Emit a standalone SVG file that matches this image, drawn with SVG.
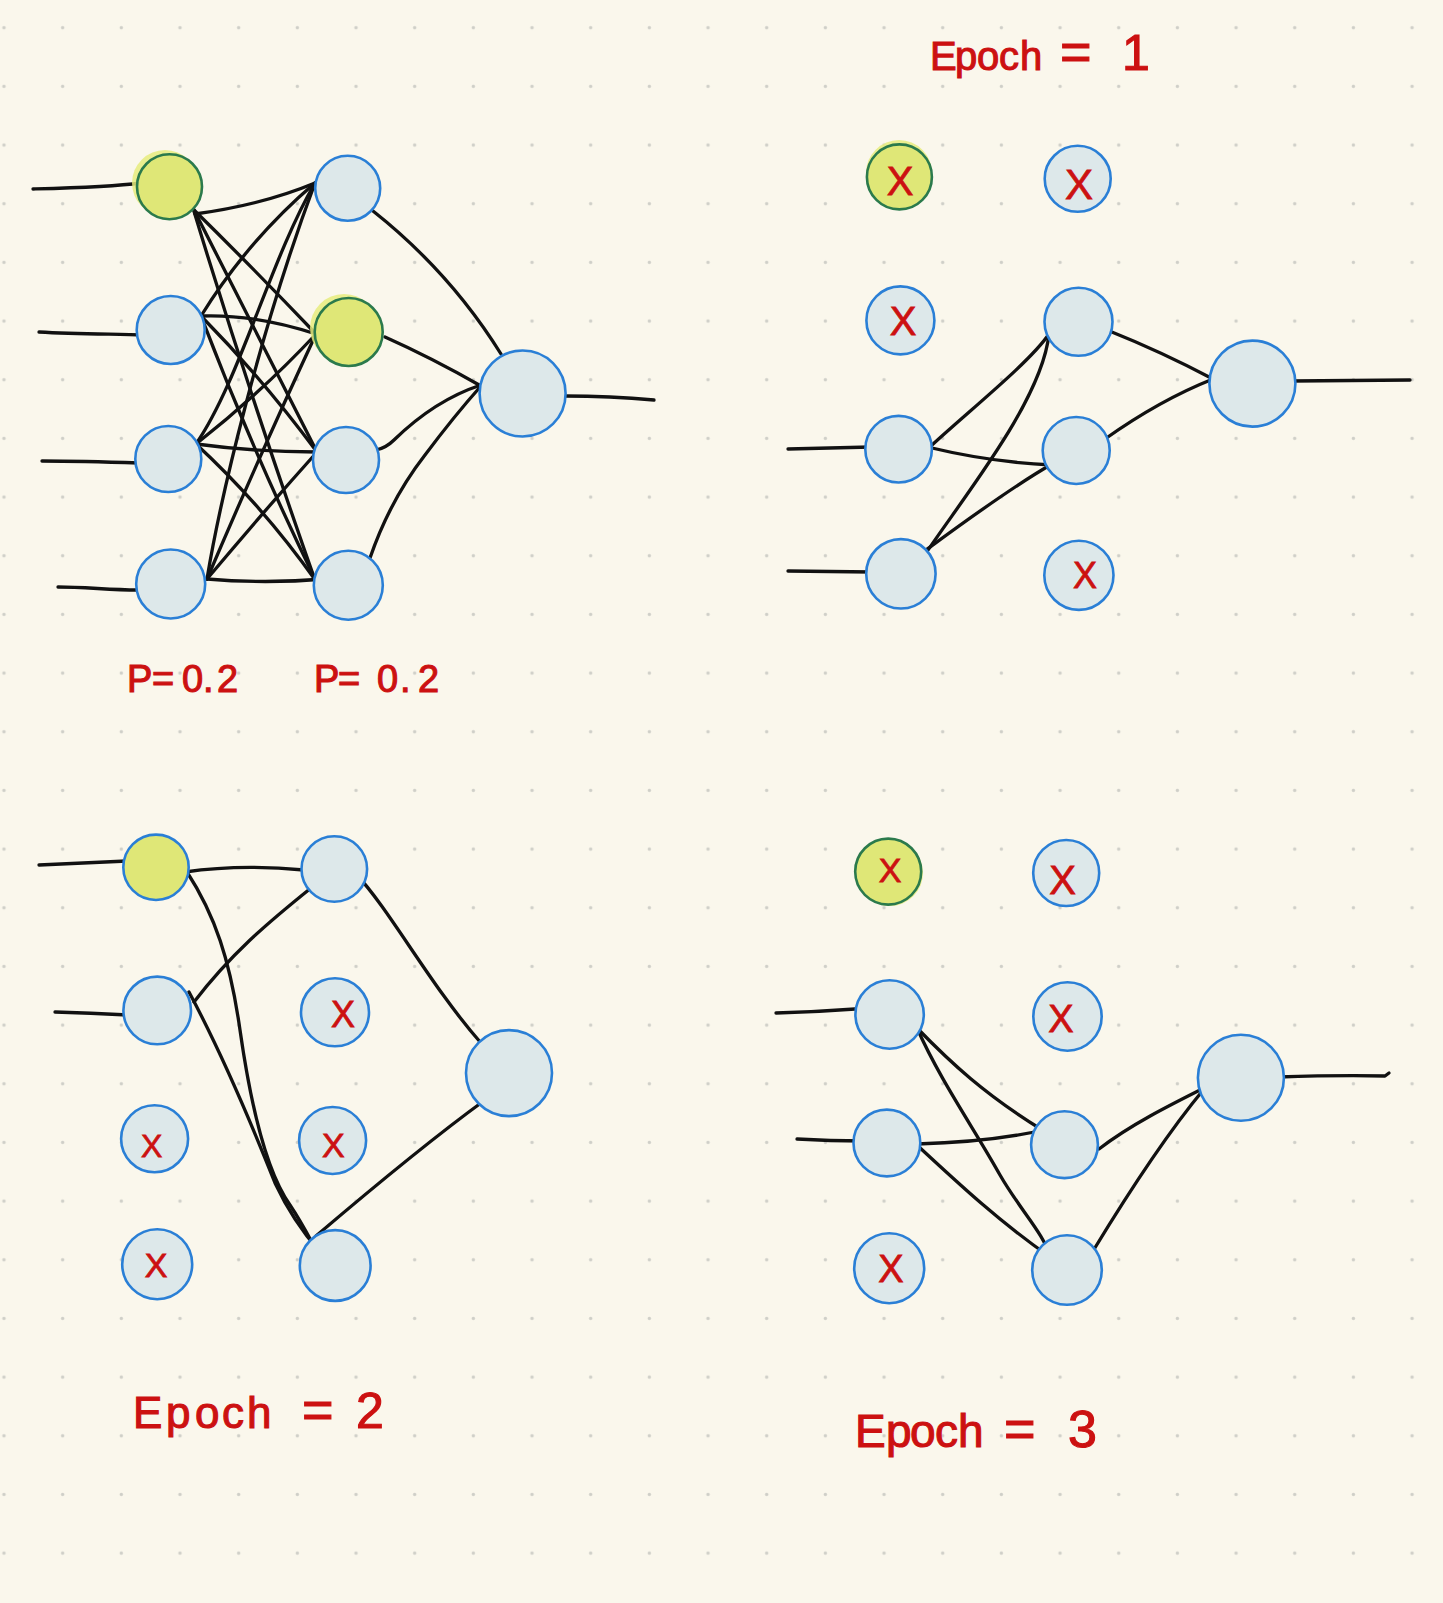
<svg xmlns="http://www.w3.org/2000/svg" width="1443" height="1603" viewBox="0 0 1443 1603">
<style>
.n{fill:#dde8ea;stroke:#2a7fd6;stroke-width:2.6}
.y{fill:#dfe777;stroke:#2b7a4c;stroke-width:2.6}
.yb{fill:#dfe777;stroke:#2a7fd6;stroke-width:2.6}
.glow{fill:#e6ec7e;opacity:0.85}
.c{fill:none;stroke:#111;stroke-width:3.3;stroke-linecap:round;stroke-linejoin:round}
.t{fill:#cc1111;stroke:#cc1111;stroke-width:1.1;font-family:"Liberation Sans","DejaVu Sans",sans-serif}
.xm{fill:#cc1111;stroke:#cc1111;stroke-width:0.8;font-family:"Liberation Sans","DejaVu Sans",sans-serif;text-anchor:middle}
</style>
<defs>
<pattern id="dots" patternUnits="userSpaceOnUse" x="-25.33" y="-1.63" width="58.67" height="58.67">
<circle cx="29.33" cy="29.33" r="1.7" fill="#cfcfc8"/>
</pattern>
</defs>
<rect width="1443" height="1603" fill="#faf7ec"/>
<rect width="1443" height="1603" fill="url(#dots)"/>

<g id="connectors">
<!-- panel 1 inputs -->
<path class="c" d="M33,189 C70,188 110,187 141,183"/>
<path class="c" d="M39,332 C75,334 110,334 144,335"/>
<path class="c" d="M42,461 C80,461 110,462 139,463"/>
<path class="c" d="M58,587 C85,587 110,590 137,590"/>
<!-- panel 1 input->hidden -->
<path class="c" d="M195,214 Q262,205 315,183"/>
<path class="c" d="M194,210 Q255,270 316,334"/>
<path class="c" d="M193,208 Q252,325 317,452"/>
<path class="c" d="M193,208 Q248,390 315,580"/>
<path class="c" d="M201,316 Q248,240 315,183"/>
<path class="c" d="M201,316 Q255,314 316,334"/>
<path class="c" d="M201,316 Q262,378 317,452"/>
<path class="c" d="M201,316 Q252,450 316,581"/>
<path class="c" d="M196,444 C240,380 270,260 315,183"/>
<path class="c" d="M196,444 Q262,392 316,334"/>
<path class="c" d="M196,444 Q255,452 317,452"/>
<path class="c" d="M196,444 Q262,505 316,581"/>
<path class="c" d="M207,579 C220,500 260,330 315,183"/>
<path class="c" d="M207,579 Q262,450 316,334"/>
<path class="c" d="M207,579 Q265,510 317,452"/>
<path class="c" d="M207,579 Q265,584 325,579"/>
<!-- panel 1 hidden->output -->
<path class="c" d="M373,211 Q450,272 501,354"/>
<path class="c" d="M385,337 Q432,358 481,386"/>
<path class="c" d="M376,450 Q386,448 394,440 Q435,400 481,385"/>
<path class="c" d="M370,558 Q390,500 425,455 Q455,415 481,386"/>
<path class="c" d="M565,396 Q610,396 654,400"/>
<!-- panel 2 -->
<path class="c" d="M788,449 L871,447"/>
<path class="c" d="M788,571 L872,572"/>
<path class="c" d="M932,445 C970,410 1030,362 1049,334"/>
<path class="c" d="M932,448 Q990,462 1052,465"/>
<path class="c" d="M926,553 C965,495 1042,400 1049,334"/>
<path class="c" d="M926,550 C960,525 1010,488 1052,464"/>
<path class="c" d="M1107,330 Q1162,352 1213,379"/>
<path class="c" d="M1105,439 Q1160,400 1213,379"/>
<path class="c" d="M1292,381 L1410,380"/>
<!-- panel 3 -->
<path class="c" d="M39,865 Q80,863 127,861"/>
<path class="c" d="M55,1012 Q90,1013 128,1015"/>
<path class="c" d="M185,872 Q240,864 304,870"/>
<path class="c" d="M187,872 C215,915 230,960 240,1030 C250,1100 265,1170 290,1205 C300,1220 308,1235 314,1246"/>
<path class="c" d="M194,1002 C230,955 265,925 311,888"/>
<path class="c" d="M189,992 C220,1050 250,1120 275,1183 C290,1215 305,1235 320,1252"/>
<path class="c" d="M356,874 C390,910 430,985 481,1043"/>
<path class="c" d="M316,1236 C370,1190 430,1140 485,1100"/>
<!-- panel 4 -->
<path class="c" d="M776,1013 Q815,1012 855,1009"/>
<path class="c" d="M797,1139 Q830,1141 864,1141"/>
<path class="c" d="M917,1028 C950,1062 985,1095 1044,1131"/>
<path class="c" d="M917,1028 C940,1080 975,1130 1000,1175 C1020,1210 1045,1235 1050,1257"/>
<path class="c" d="M917,1144 Q990,1142 1044,1130"/>
<path class="c" d="M918,1146 C960,1185 1000,1222 1050,1257"/>
<path class="c" d="M1099,1149 C1130,1125 1170,1105 1206,1087"/>
<path class="c" d="M1093,1251 C1130,1190 1170,1130 1204,1089"/>
<path class="c" d="M1278,1077 Q1340,1075 1385,1076 L1389,1073"/>
</g>

<!-- Panel 1 nodes -->
<g id="p1-in1"><circle class="glow" cx="165" cy="183" r="33"/><circle class="y" cx="169.5" cy="186.7" r="32.5"/></g>
<g id="p1-in2"><circle class="n" cx="170.7" cy="330" r="34"/></g>
<g id="p1-in3"><circle class="n" cx="168.3" cy="459" r="33"/></g>
<g id="p1-in4"><circle class="n" cx="170.7" cy="584" r="34.5"/></g>
<g id="p1-h1"><circle class="n" cx="347.7" cy="188.3" r="32.5"/></g>
<g id="p1-h2"><circle class="glow" cx="344" cy="328" r="34"/><circle class="y" cx="348.7" cy="332" r="34"/></g>
<g id="p1-h3"><circle class="n" cx="346" cy="460" r="33"/></g>
<g id="p1-h4"><circle class="n" cx="348.3" cy="585.3" r="34.5"/></g>
<g id="p1-out"><circle class="n" cx="522.6" cy="393.5" r="43"/></g>

<!-- Panel 2 nodes -->
<g id="p2-in1"><circle class="glow" cx="899" cy="173" r="33"/><circle class="y" cx="899.4" cy="176.9" r="32.5"/><text class="xm" x="900" y="195" font-size="40">X</text></g>
<g id="p2-in2"><circle class="n" cx="900.4" cy="320.4" r="34"/><text class="xm" x="903" y="335" font-size="40">X</text></g>
<g id="p2-in3"><circle class="n" cx="898.6" cy="449.2" r="33.3"/></g>
<g id="p2-in4"><circle class="n" cx="900.9" cy="573.8" r="34.7"/></g>
<g id="p2-h1"><circle class="n" cx="1077.7" cy="178.8" r="33"/><text class="xm" x="1079" y="199" font-size="42">X</text></g>
<g id="p2-h2"><circle class="n" cx="1078.5" cy="321.8" r="34"/></g>
<g id="p2-h3"><circle class="n" cx="1076.2" cy="450.5" r="33.5"/></g>
<g id="p2-h4"><circle class="n" cx="1078.9" cy="575.3" r="34.6"/><text class="xm" x="1085" y="588" font-size="36">X</text></g>
<g id="p2-out"><circle class="n" cx="1252.4" cy="383.6" r="43"/></g>

<!-- Panel 3 nodes -->
<g id="p3-in1"><circle class="yb" cx="156" cy="867.3" r="32.7"/></g>
<g id="p3-in2"><circle class="n" cx="157.2" cy="1010.4" r="33.8"/></g>
<g id="p3-in3"><circle class="n" cx="154.6" cy="1138.8" r="33.5"/><text class="xm" x="151.7" y="1157" font-size="32">X</text></g>
<g id="p3-in4"><circle class="n" cx="157.2" cy="1264.2" r="35"/><text class="xm" x="156" y="1277" font-size="34">X</text></g>
<g id="p3-h1"><circle class="n" cx="334.3" cy="869" r="32.8"/></g>
<g id="p3-h2"><circle class="n" cx="335" cy="1012.3" r="34"/><text class="xm" x="343" y="1027" font-size="36">X</text></g>
<g id="p3-h3"><circle class="n" cx="332.6" cy="1140.5" r="33.5"/><text class="xm" x="333.4" y="1157" font-size="34">X</text></g>
<g id="p3-h4"><circle class="n" cx="335.2" cy="1265.5" r="35.4"/></g>
<g id="p3-out"><circle class="n" cx="509" cy="1073.1" r="43"/></g>

<!-- Panel 4 nodes -->
<g id="p4-in1"><circle class="glow" cx="890" cy="873" r="33"/><circle class="y" cx="888.2" cy="871.6" r="33"/><text class="xm" x="890" y="882" font-size="34">X</text></g>
<g id="p4-in2"><circle class="n" cx="889.6" cy="1014.5" r="34.2"/></g>
<g id="p4-in3"><circle class="n" cx="886.9" cy="1143" r="33.4"/></g>
<g id="p4-in4"><circle class="n" cx="889.2" cy="1268.2" r="35"/><text class="xm" x="891" y="1282" font-size="38">X</text></g>
<g id="p4-h1"><circle class="n" cx="1066.2" cy="873" r="33"/><text class="xm" x="1062.6" y="894" font-size="40">X</text></g>
<g id="p4-h2"><circle class="n" cx="1067.5" cy="1016.5" r="34.2"/><text class="xm" x="1061" y="1032" font-size="38">X</text></g>
<g id="p4-h3"><circle class="n" cx="1064.5" cy="1144.7" r="33.4"/></g>
<g id="p4-h4"><circle class="n" cx="1067" cy="1270" r="34.8"/></g>
<g id="p4-out"><circle class="n" cx="1240.9" cy="1077.8" r="43"/></g>

<!-- Labels -->
<text class="t" font-size="40" x="930 955 977 999 1020" y="70">Epoch <tspan x="1060" font-size="54">=</tspan> <tspan x="1122" font-size="50">1</tspan></text>
<text class="t" font-size="38" x="127 152 182 203 217" y="692">P=0.2</text>
<text class="t" font-size="38" x="314 338 377 400 418" y="692">P=0.2</text>
<text class="t" font-size="44" x="133 166 195 222 247" y="1428">Epoch <tspan x="302" font-size="54">=</tspan><tspan x="356" font-size="50">2</tspan></text>
<text class="t" font-size="46" x="855 886 910 935 958" y="1447">Epoch <tspan x="1004" font-size="54">=</tspan> <tspan x="1068" font-size="52">3</tspan></text>
</svg>
